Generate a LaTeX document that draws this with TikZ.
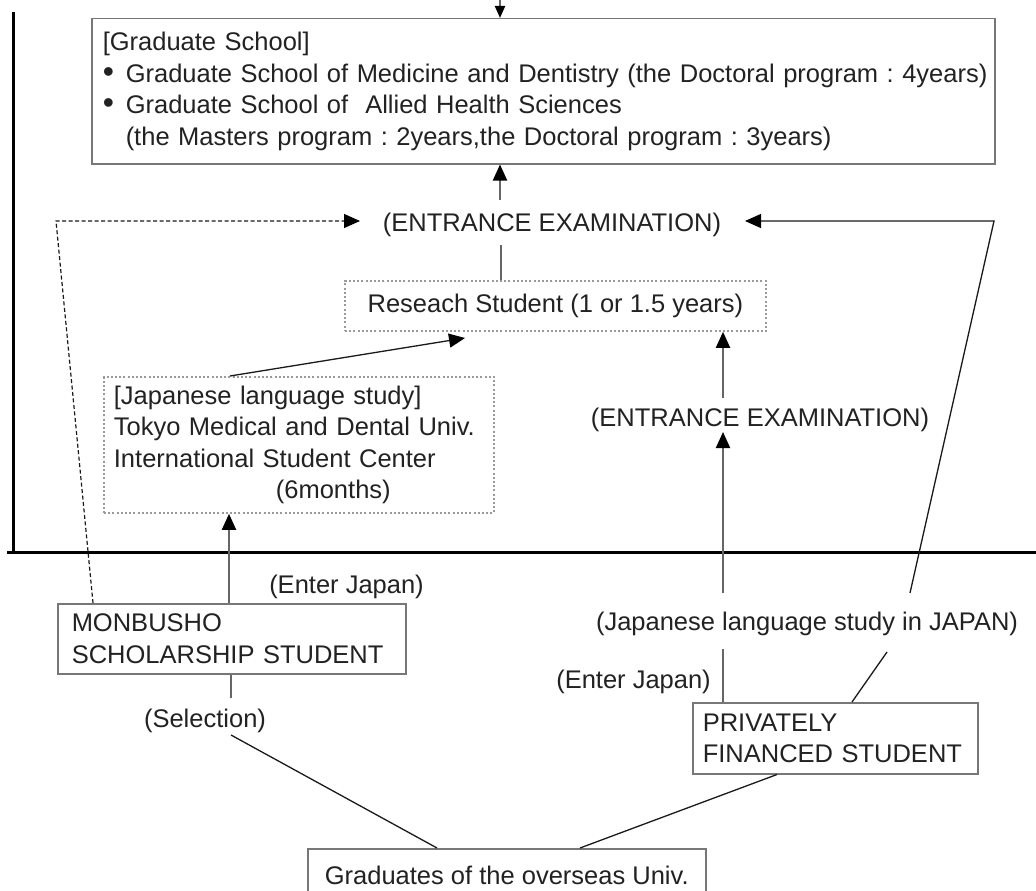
\documentclass[tikz,border=0pt]{standalone}
\usepackage{fontspec}
\setmainfont{Liberation Sans}
\usetikzlibrary{arrows.meta,calc}
\frenchspacing
\definecolor{txt}{HTML}{222222}
\definecolor{boxgray}{HTML}{777777}
\definecolor{dotgray}{HTML}{9A9A9A}
\definecolor{linegray}{HTML}{666666}
\definecolor{lineblack}{HTML}{1A1A1A}
\tikzset{
  basefont/.style={font=\fontsize{25.5pt}{31.5pt}\selectfont\frenchspacing, text=txt},
  solidbox/.style={basefont, draw=boxgray, line width=1.5pt, align=left, anchor=north west},
  dotbox/.style={basefont, draw=dotgray, line width=1.8pt, dash pattern=on 2pt off 2.2pt, align=left, anchor=north west},
  lbl/.style={basefont, inner sep=0pt, anchor=base},
  tip/.style={-{Triangle[length=16pt,width=14pt,color=black]}},
  gln/.style={draw=linegray, line width=2pt},
  bln/.style={draw=lineblack, line width=1.3pt},
  dln/.style={draw=lineblack, line width=1.2pt, dash pattern=on 4pt off 2.5pt},
  heavy/.style={draw=black, line width=3pt}
}
\begin{document}
\begin{tikzpicture}[x=1pt,y=-1pt]
\path[use as bounding box] (0,0) rectangle (1036,891);
\clip (0,0) rectangle (1036,891);
\fill[white] (0,0) rectangle (1036,891);

% frame lines
\draw[heavy] (13,12) -- (13,552);
\draw[heavy] (7,552) -- (1040,552);

% boxes
\node[solidbox, inner xsep=11pt, text width=881pt, minimum height=145pt] (grad) at (91,18)
  {[Graduate School]\\
   \mbox{\makebox[23pt][l]{\scalebox{1.25}{•}}Graduate School of Medicine and Dentistry (the Doctoral program : 4years)}\\
   \mbox{\makebox[23pt][l]{\scalebox{1.25}{•}}Graduate School of\ \ Allied Health Sciences}\\
   \mbox{\hspace*{23pt}(the Masters program : 2years,the Doctoral program : 3years)}};

\node[dotbox, inner xsep=10pt, text width=370pt, minimum height=136pt] (jp) at (103,376)
  {[Japanese language study]\\
   Tokyo Medical and Dental Univ.\\
   International Student Center\\
   \hspace*{162pt}(6months)};

\node[dotbox, align=center, minimum width=421pt, minimum height=50pt] (rs) at (344,280)
  {Reseach Student (1 or 1.5 years)};

\node[solidbox, inner xsep=14pt, text width=320pt, minimum height=70pt] (mon) at (57,603)
  {MONBUSHO\\SCHOLARSHIP STUDENT};

\node[solidbox, inner xsep=10pt, text width=265pt, minimum height=71pt] (priv) at (692,702)
  {PRIVATELY\\FINANCED STUDENT};

\node[solidbox, align=center, minimum width=398pt, minimum height=54pt] (gradu) at (307,848)
  {Graduates of the overseas Univ.};

% labels
\node[lbl] (exam1) at (552,231.5) {(ENTRANCE EXAMINATION)};
\node[lbl] (exam2) at (760,426) {(ENTRANCE EXAMINATION)};
\node[lbl] (jstudy) at (807,630.5) {(Japanese language study in JAPAN)};
\node[lbl] (enter1) at (346.5,593) {(Enter Japan)};
\node[lbl] (enter2) at (633.5,688) {(Enter Japan)};
\node[lbl] (sel) at (205,727) {(Selection)};

% connector end points
\coordinate (topin) at (500,-20);
\coordinate (e1n) at (500,200);
\coordinate (e1s) at (501,245);
\coordinate (dstart) at (93,0);
\coordinate (dcorner) at (56,221);
\coordinate (dtip) at (360,221);
\coordinate (rcorner) at (994,221);
\coordinate (rtip) at (745,221);
\coordinate (rlow) at (910,593);
\coordinate (plow) at (887,652);
\coordinate (pstart) at (852,0);
\coordinate (v1) at (723,649);
\coordinate (v2) at (723,593);
\coordinate (v2t) at (723,432);
\coordinate (v3) at (723,398);
\coordinate (m1) at (229,0);
\coordinate (jr1) at (230,0);
\coordinate (jrt) at (465,338);
\coordinate (s1) at (231,698);
\coordinate (s2) at (231,735);
\coordinate (g1) at (437,0);
\coordinate (g2) at (580,0);
\coordinate (p1) at (777,0);

% connectors
\draw[gln, -{Triangle[length=12pt,width=10pt,color=black]}] (topin) -- (topin |- grad.north);
\draw[gln, tip] (e1n) -- (e1n |- grad.south);
\draw[gln] (e1s |- rs.north) -- (e1s);
\draw[dln, tip] (dstart |- mon.north) -- (dcorner) -- (dtip);
\draw[bln] (pstart |- priv.north) -- (plow);
\draw[bln, tip] (rlow) -- (rcorner) -- (rtip);
\draw[gln] (v1 |- priv.north) -- (v1);
\draw[gln, tip] (v2) -- (v2t);
\draw[gln, tip] (v3) -- (v3 |- rs.south);
\draw[gln, tip] (m1 |- mon.north) -- (m1 |- jp.south);
\draw[bln, tip] (jr1 |- jp.north) -- (jrt);
\draw[gln] (s1 |- mon.south) -- (s1);
\draw[bln] (s2) -- (g1 |- gradu.north);
\draw[bln] (p1 |- priv.south) -- (g2 |- gradu.north);
\end{tikzpicture}
\end{document}
